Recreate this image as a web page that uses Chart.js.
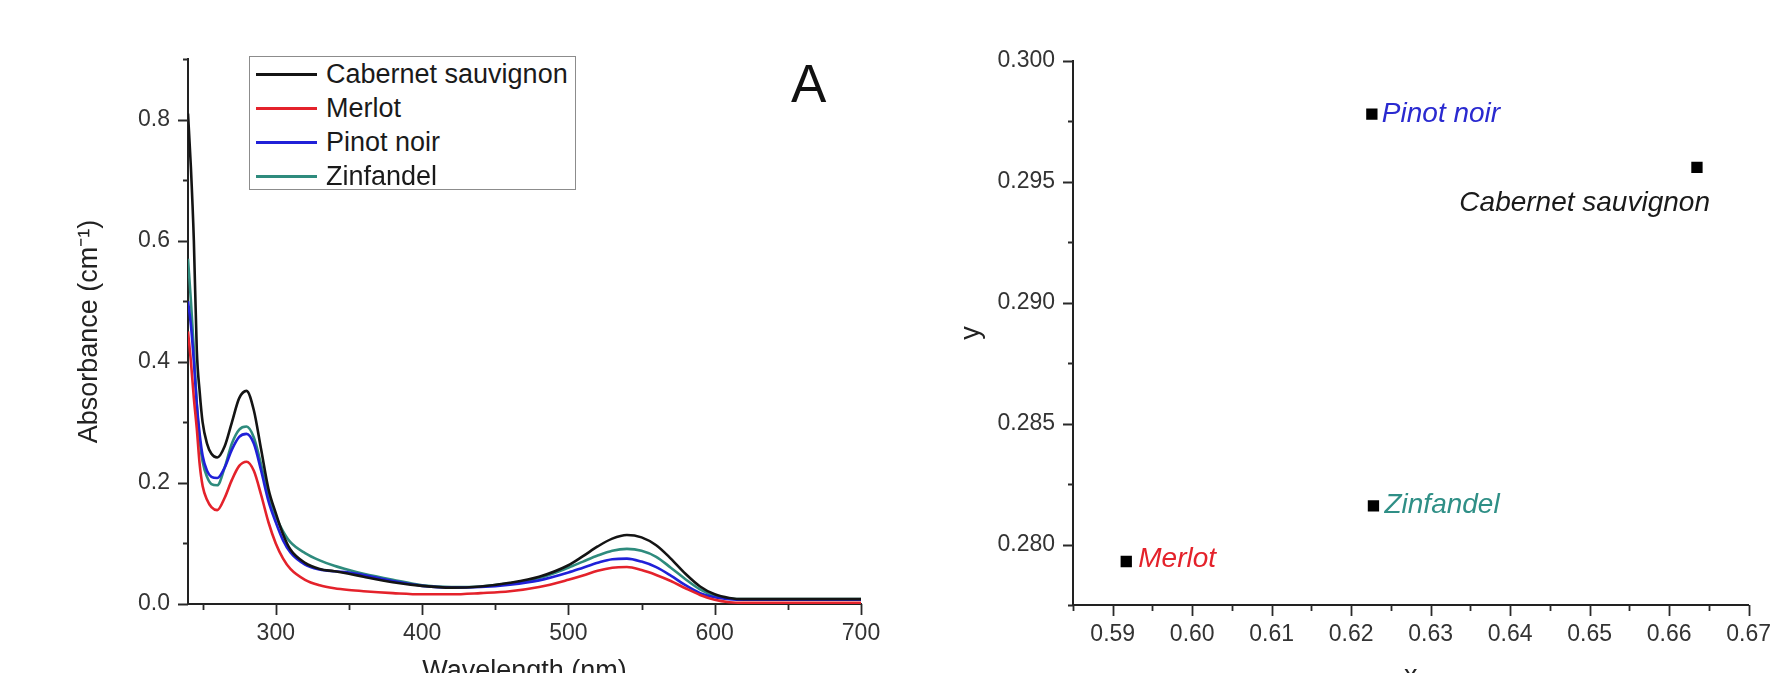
<!DOCTYPE html>
<html>
<head>
<meta charset="utf-8">
<title>Wine spectra</title>
<script src="https://cdn.jsdelivr.net/npm/chart.js@4.4.0/dist/chart.umd.min.js"></script>
<style>
  html, body { margin: 0; padding: 0; background: #fff; }
  body {
    width: 1787px; height: 673px; overflow: hidden; position: relative;
    font-family: 'Liberation Sans', Arial, sans-serif; color: #222;
  }
  .panel { position: absolute; top: 0; }
  #spectraPanel { left: 0; }
  #chromaPanel { left: 900px; }
  #legend {
    position: absolute; left: 249px; top: 56px; width: 327px; height: 134px;
    border: 1.5px solid #8c8c8c; box-sizing: border-box; background: #fff;
  }
  #legend .row { position: absolute; left: 0; height: 34px; width: 100%; }
  #legend .swatch { position: absolute; left: 6px; top: 16px; width: 61px; height: 3px; }
  #legend .name { position: absolute; left: 76px; top: 0; font-size: 27px; line-height: 34px; color: #1a1a1a; white-space: nowrap; }
  #panelTag {
    position: absolute; left: 791px; top: 57px; font-size: 53px; line-height: 53px; color: #111;
  }
</style>
</head>
<body>
<div class="panel" id="spectraPanel"><canvas id="spectra" width="900" height="700"></canvas></div>
<div class="panel" id="chromaPanel"><canvas id="chroma" width="887" height="700"></canvas></div>
<div id="legend"></div>
<div id="panelTag">A</div>

<script>
// UV-vis absorbance of the four wines
const wavelength = [240, 242, 244, 246, 248, 250, 253, 256, 260, 265, 270, 275, 280, 285, 290, 295, 300, 305, 310,
  320, 330, 340, 350, 360, 380, 400, 420, 440, 460, 480, 500, 510, 520, 530, 540, 550, 560, 570, 580, 590,
  600, 610, 620, 640, 660, 680, 700];

const cabernet = [0.81, 0.72, 0.60, 0.42, 0.35, 0.30, 0.265, 0.248, 0.242, 0.26, 0.30, 0.34, 0.352, 0.32, 0.255, 0.19, 0.15, 0.115, 0.09,
  0.068, 0.058, 0.054, 0.050, 0.045, 0.036, 0.030, 0.027, 0.029, 0.035, 0.045, 0.064, 0.079, 0.095, 0.108, 0.114, 0.110, 0.097, 0.075, 0.050, 0.029,
  0.016, 0.010, 0.008, 0.008, 0.008, 0.008, 0.008];
const merlot = [0.45, 0.40, 0.34, 0.29, 0.23, 0.195, 0.172, 0.16, 0.155, 0.175, 0.205, 0.228, 0.235, 0.22, 0.18, 0.135, 0.10, 0.075, 0.058,
  0.040, 0.031, 0.026, 0.023, 0.021, 0.018, 0.016, 0.016, 0.018, 0.021, 0.028, 0.040, 0.047, 0.055, 0.060, 0.061, 0.056, 0.048, 0.038, 0.026, 0.015,
  0.007, 0.003, 0.002, 0.002, 0.002, 0.002, 0.002];
const pinotNoir = [0.50, 0.46, 0.40, 0.33, 0.28, 0.245, 0.22, 0.21, 0.208, 0.225, 0.255, 0.276, 0.281, 0.265, 0.22, 0.17, 0.135, 0.105, 0.085,
  0.065, 0.057, 0.054, 0.052, 0.048, 0.038, 0.030, 0.027, 0.028, 0.032, 0.039, 0.052, 0.060, 0.068, 0.074, 0.075, 0.070, 0.061, 0.047, 0.031, 0.018,
  0.011, 0.008, 0.007, 0.007, 0.007, 0.007, 0.007];
const zinfandel = [0.57, 0.50, 0.42, 0.33, 0.27, 0.235, 0.21, 0.198, 0.196, 0.225, 0.265, 0.288, 0.293, 0.275, 0.23, 0.178, 0.145, 0.12, 0.102,
  0.084, 0.072, 0.063, 0.056, 0.050, 0.040, 0.031, 0.028, 0.029, 0.034, 0.043, 0.060, 0.070, 0.080, 0.088, 0.091, 0.088, 0.078, 0.060, 0.041, 0.024,
  0.013, 0.009, 0.008, 0.008, 0.008, 0.008, 0.008];

const wineNames = ['Cabernet sauvignon', 'Merlot', 'Pinot noir', 'Zinfandel'];
const wineColors = ['#141414', '#e4222b', '#2020d8', '#2e8b7d'];

// chromaticity coordinates, same wine order
const chromaX = [0.6635, 0.5917, 0.6226, 0.6228];
const chromaY = [0.2956, 0.2793, 0.2978, 0.2816];

// tick positions
const waveTicks = [300, 400, 500, 600, 700];
const waveMinor = [250, 350, 450, 550, 650];
const absTicks = [0.0, 0.2, 0.4, 0.6, 0.8];
const absMinor = [0.1, 0.3, 0.5, 0.7, 0.9];
const cxTicks = [0.59, 0.60, 0.61, 0.62, 0.63, 0.64, 0.65, 0.66, 0.67];
const cxMinor = [0.585, 0.595, 0.605, 0.615, 0.625, 0.635, 0.645, 0.655, 0.665];
const cyTicks = [0.280, 0.285, 0.290, 0.295, 0.300];
const cyMinor = [0.2775, 0.2825, 0.2875, 0.2925, 0.2975];

const FONT = "'Liberation Sans', Arial, sans-serif";
const tickFont = { family: FONT, size: 23 };
const titleFont = { family: FONT, size: 27 };

// outward tick marks, long for labelled values, short in between
const axisTicks = {
  id: 'axisTicks',
  afterDraw(chart, args, opts) {
    const ctx = chart.ctx;
    const xs = chart.scales.x, ys = chart.scales.y;
    const { left, bottom } = chart.chartArea;
    ctx.save();
    ctx.strokeStyle = '#2a2a2a';
    ctx.lineWidth = 1.8;
    ctx.beginPath();
    const down = (vals, len) => vals.forEach(v => {
      const px = Math.round(xs.getPixelForValue(v)) + 0.5;
      ctx.moveTo(px, bottom); ctx.lineTo(px, bottom + len);
    });
    const side = (vals, len) => vals.forEach(v => {
      const py = Math.round(ys.getPixelForValue(v)) + 0.5;
      ctx.moveTo(left, py); ctx.lineTo(left - len, py);
    });
    down(opts.xMajor, 11); down(opts.xMinor, 6);
    side(opts.yMajor, 10); side(opts.yMinor, 5);
    ctx.stroke();
    ctx.restore();
  }
};

// italic name beside each chromaticity point
const pointNames = {
  id: 'pointNames',
  afterDatasetsDraw(chart, args, opts) {
    const ctx = chart.ctx;
    const pts = chart.getDatasetMeta(0).data;
    ctx.save();
    ctx.font = 'italic 28px ' + FONT;
    ctx.textBaseline = 'middle';
    pts.forEach((pt, i) => {
      const o = opts.offsets[i];
      ctx.fillStyle = opts.colors[i];
      ctx.textAlign = o.align;
      ctx.fillText(opts.names[i], pt.x + o.dx, pt.y + o.dy);
    });
    ctx.restore();
  }
};

function axis(min, max, ticks, fmt, size, extra) {
  return Object.assign({
    type: 'linear', min: min, max: max,
    grid: { display: false, drawTicks: false },
    border: { display: true, color: '#222', width: 2 },
    afterBuildTicks: s => { s.ticks = ticks.map(v => ({ value: v })); },
    ticks: { font: tickFont, color: '#333', padding: 16, maxRotation: 0, autoSkip: false, callback: v => fmt(v) }
  }, extra, {
    afterFit: s => { if (s.isHorizontal()) s.height = size; else s.width = size; }
  });
}

const spectraChart = new Chart(document.getElementById('spectra'), {
  type: 'line',
  data: {
    datasets: [cabernet, merlot, pinotNoir, zinfandel].map((vals, i) => ({
      label: wineNames[i],
      data: wavelength.map((w, j) => ({ x: w, y: vals[j] })),
      borderColor: wineColors[i],
      borderWidth: 2.6,
      pointRadius: 0,
      cubicInterpolationMode: 'monotone',
      fill: false
    }))
  },
  options: {
    responsive: false,
    animation: false,
    layout: { padding: { left: 0, right: 39, top: 59, bottom: 0 } },
    plugins: {
      legend: { display: false },
      tooltip: { enabled: false },
      axisTicks: { xMajor: waveTicks, xMinor: waveMinor, yMajor: absTicks, yMinor: absMinor }
    },
    scales: {
      x: axis(240, 700, waveTicks, v => String(v), 96, {
        title: { display: true, text: 'Wavelength (nm)', font: titleFont, color: '#222', padding: { top: 12, bottom: 12 } }
      }),
      y: axis(0, 0.9, absTicks, v => v.toFixed(1), 188, {
        title: { display: true, text: 'Absorbance (cm⁻¹)', font: titleFont, color: '#222', padding: { top: 73, bottom: 73 } },
        ticks: { font: tickFont, color: '#333', padding: 18, autoSkip: false, callback: v => v.toFixed(1) }
      })
    }
  },
  plugins: [axisTicks]
});

const chromaChart = new Chart(document.getElementById('chroma'), {
  type: 'scatter',
  data: {
    datasets: [{
      label: 'Wines',
      data: chromaX.map((x, i) => ({ x: x, y: chromaY[i] })),
      pointStyle: 'rect',
      pointRadius: 8,
      backgroundColor: '#000',
      borderWidth: 0
    }]
  },
  options: {
    responsive: false,
    animation: false,
    layout: { padding: { left: 0, right: 27, top: 61, bottom: 0 } },
    plugins: {
      legend: { display: false },
      tooltip: { enabled: false },
      axisTicks: { xMajor: cxTicks, xMinor: cxMinor, yMajor: cyTicks, yMinor: cyMinor },
      pointNames: {
        names: wineNames,
        colors: ['#1a1a1a', '#e4222b', '#2a2ad0', '#2f8f86'],
        offsets: [
          { dx: 13, dy: 36, align: 'right' },
          { dx: 12, dy: -2, align: 'left' },
          { dx: 10, dy: 0, align: 'left' },
          { dx: 11, dy: -1, align: 'left' }
        ]
      }
    },
    scales: {
      x: axis(0.585, 0.67, cxTicks, v => v.toFixed(2), 95, {
        title: { display: true, text: 'x', font: titleFont, color: '#222', padding: { top: 7, bottom: 7 } }
      }),
      y: axis(0.2775, 0.300, cyTicks, v => v.toFixed(3), 173, {
        title: { display: true, text: 'y', font: titleFont, color: '#222', padding: { top: 55, bottom: 55 } },
        ticks: { font: tickFont, color: '#333', padding: 18, autoSkip: false, callback: v => v.toFixed(3) }
      })
    }
  },
  plugins: [axisTicks, pointNames]
});

// legend box built from the spectra datasets
const legendBox = document.getElementById('legend');
spectraChart.data.datasets.forEach((ds, i) => {
  const row = document.createElement('div');
  row.className = 'row';
  row.style.top = (i * 34) + 'px';
  const sw = document.createElement('div');
  sw.className = 'swatch';
  sw.style.background = ds.borderColor;
  const nm = document.createElement('div');
  nm.className = 'name';
  nm.textContent = ds.label;
  row.appendChild(sw);
  row.appendChild(nm);
  legendBox.appendChild(row);
});
</script>
</body>
</html>
